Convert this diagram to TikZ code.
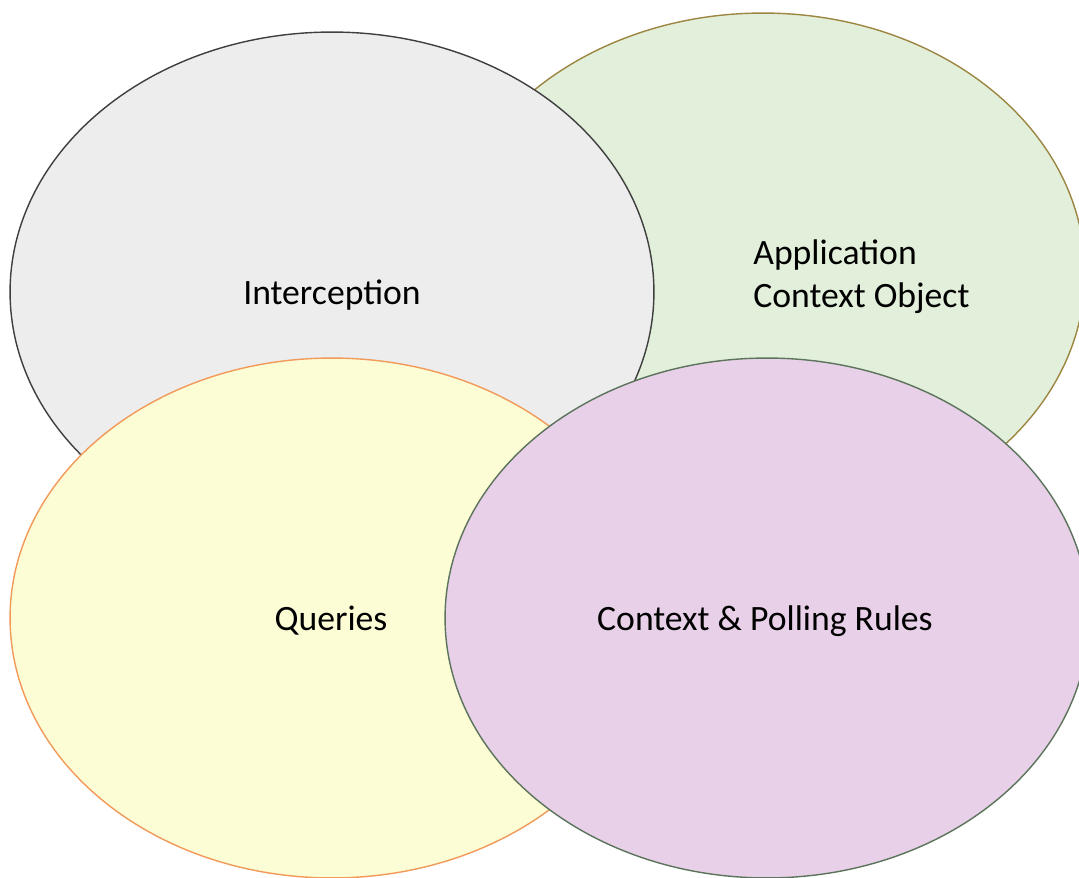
\documentclass[tikz,border=0pt]{standalone}
\usepackage{fontspec}
\setmainfont{Carlito}
\definecolor{greyfill}{HTML}{EDEDED}
\definecolor{greyline}{HTML}{3F3F3F}
\definecolor{greenfill}{HTML}{E2EFDA}
\definecolor{greenline}{HTML}{9C8642}
\definecolor{yellowfill}{HTML}{FCFDD5}
\definecolor{yellowline}{HTML}{F19A5A}
\definecolor{purplefill}{HTML}{E8D0E8}
\definecolor{purpleline}{HTML}{5B745B}
\newcommand{\blob}[4] % x in px, y in px, fill, border
{
	% all four ellipses have the same size
	\draw[draw=#4, fill=#3, line width=0.8pt] (#1,#2) ellipse (6.44cm and 5.2cm);
}
\tikzset{
	blobtext/.style={font=\fontsize{20.3}{24.4}\selectfont, inner sep=0pt, text=black}
}

\begin{document}
\begin{tikzpicture}[x=0.02cm, y=-0.02cm]
	% canvas 1079px x 878px
	\useasboundingbox (0,0) rectangle (1079,878);
	\clip (0,0) rectangle (1079,878);
	
	% back to front
	\blob{763}{273}{greenfill}{greenline};
	\blob{332}{292}{greyfill}{greyline};
	\blob{332}{618}{yellowfill}{yellowline};
	\blob{767}{618}{purplefill}{purpleline};
	
	\node[blobtext] (interception) at (332,295) {Interception};
	\node[blobtext, align=left, anchor=west] (appcontext) at (753,277) {Application\\Context Object};
	\node[blobtext] (queries) at (331,621) {Queries};
	\node[blobtext] (pollingrules) at (765,621) {Context \& Polling Rules};
	
\end{tikzpicture}
\end{document}
